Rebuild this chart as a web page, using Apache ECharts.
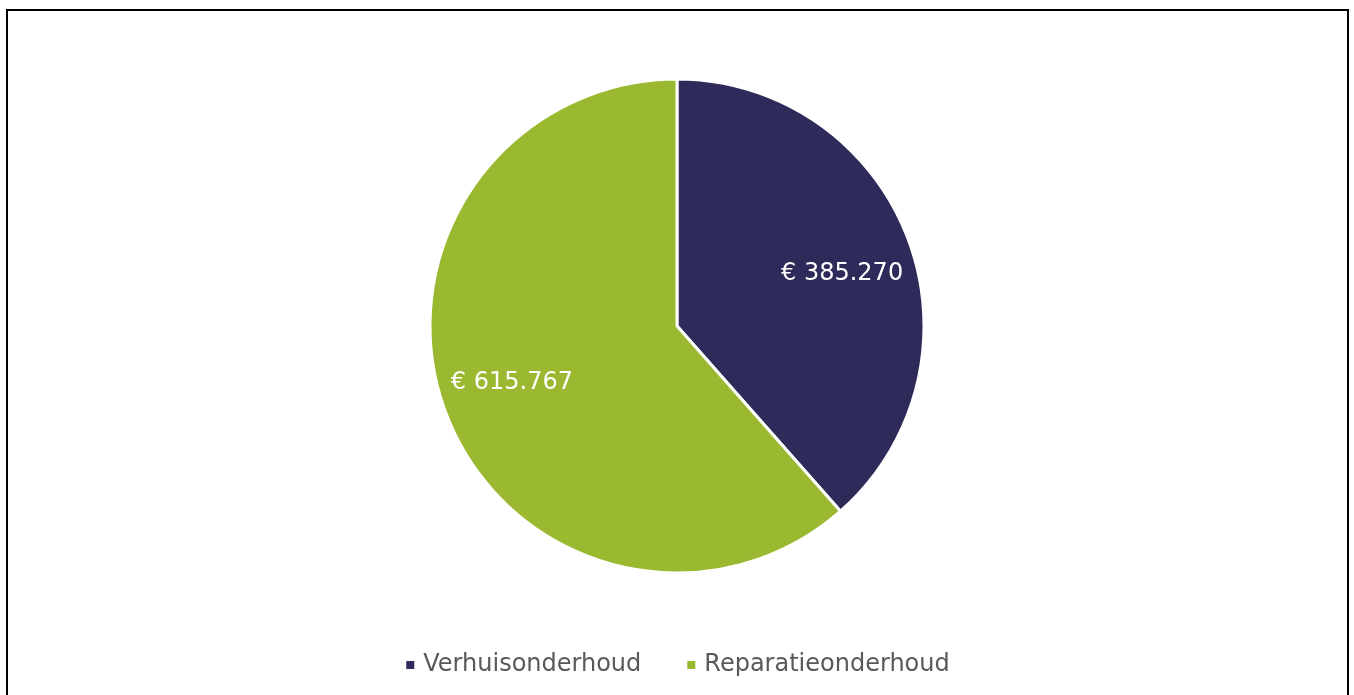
<!DOCTYPE html>
<html>
<head>
<meta charset="utf-8">
<script src="https://cdn.jsdelivr.net/npm/echarts@6/dist/echarts.min.js"></script>
<style>
  html, body { margin: 0; padding: 0; background: #fff; }
  #chart { width: 1354px; height: 695px; }
</style>
</head>
<body>
<div id="chart"></div>
<script>
// data
const categories = ["Verhuisonderhoud", "Reparatieonderhoud"];
const values = [385270, 615767];
const colors = ["#2E2A5A", "#9BB930"];

// € 385.270
const fmtEuro = (v) => "€ " + v.toLocaleString("de-DE");

const myChart = echarts.init(document.getElementById("chart"));
const center = [677, 326];
const labelOffsets = [[0, 10], [0, -6]];

const option = {
  animation: false,
  textStyle: { fontFamily: "DejaVu Sans, Verdana, sans-serif" },
  graphic: [
    {
      type: "rect",
      shape: { x: 7, y: 10, width: 1341, height: 720 },
      style: { fill: "none", stroke: "#000", lineWidth: 2 },
      silent: true
    }
  ],
  legend: {
    data: categories,
    top: 648,
    left: "center",
    icon: "rect",
    itemWidth: 10,
    itemHeight: 10,
    itemGap: 44,
    textStyle: {
      color: "#595959",
      fontSize: 24,
      padding: [0, 0, 0, 3]
    }
  },
  series: [
    {
      // visible pie
      type: "pie",
      center: center,
      radius: 247,
      startAngle: 90,
      clockwise: true,
      silent: true,
      label: { show: false },
      labelLine: { show: false },
      itemStyle: { borderColor: "#fff", borderWidth: 3 },
      data: categories.map((name, i) => ({
        name: name,
        value: values[i],
        itemStyle: { color: colors[i] }
      }))
    },
    {
      // transparent ring, only carries the labels further out
      type: "pie",
      center: center,
      radius: [100, 247],
      startAngle: 90,
      clockwise: true,
      silent: true,
      legendHoverLink: false,
      itemStyle: { color: "transparent" },
      label: {
        show: true,
        position: "inside",
        color: "#fff",
        fontSize: 24,
        formatter: (p) => fmtEuro(p.value)
      },
      labelLine: { show: false },
      data: categories.map((name, i) => ({
        name: name,
        value: values[i],
        label: { offset: labelOffsets[i] }
      }))
    }
  ]
};

myChart.setOption(option);
</script>
</body>
</html>
